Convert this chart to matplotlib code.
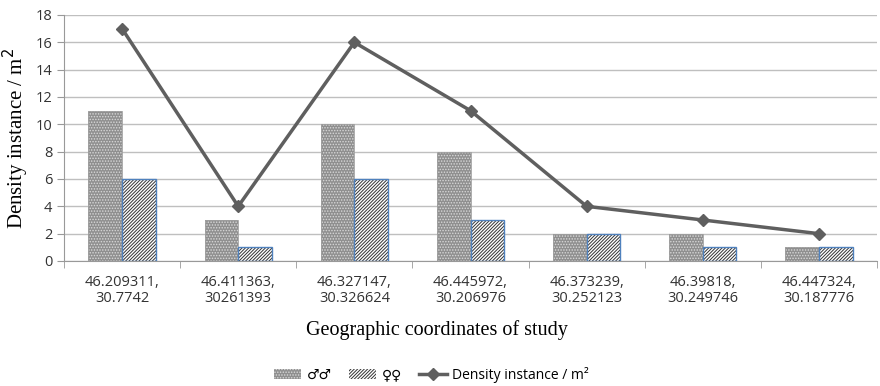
import matplotlib
matplotlib.use("Agg")
import matplotlib.pyplot as plt
import numpy as np
from matplotlib.patches import Patch
from matplotlib.lines import Line2D

categories = ["46.209311,\n30.7742", "46.411363,\n30261393", "46.327147,\n30.326624",
              "46.445972,\n30.206976", "46.373239,\n30.252123", "46.39818,\n30.249746",
              "46.447324,\n30.187776"]
males = [11, 3, 10, 8, 2, 2, 1]
females = [6, 1, 6, 3, 2, 1, 1]
density = [17, 4, 16, 11, 4, 3, 2]

plt.rcParams['hatch.linewidth'] = 0.7

fig = plt.figure(figsize=(8.8, 3.86), dpi=100)
ax = fig.add_axes([64/880, 1-261/386, (877-64)/880, (261-15)/386])

x = np.arange(len(categories))
w = 0.29

male_face, male_hatch = "#8f8f8f", "#d8d8d8"
fem_face, fem_hatch = "white", "#333333"

ax.bar(x - w/2, males, w, color=male_face, edgecolor=male_hatch, linewidth=0, hatch="......", zorder=2)
ax.bar(x - w/2, males, w, fill=False, edgecolor="#a0a0a0", linewidth=0.6, zorder=3)
ax.bar(x + w/2, females, w, color=fem_face, edgecolor=fem_hatch, linewidth=0, hatch="//////////", zorder=2)
ax.bar(x + w/2, females, w, fill=False, edgecolor="#4f81bd", linewidth=1.0, zorder=3)

ax.plot(x, density, color="#5f5f5f", linewidth=2.5, marker="D", markersize=6.5, zorder=4)

ax.set_xlim(-0.5, len(categories) - 0.5)
ax.set_ylim(0, 18)
ax.set_yticks(range(0, 19, 2))
ax.yaxis.grid(True, color="#bfbfbf", linewidth=1)
ax.set_axisbelow(True)

ax.set_xticks(x)
ax.set_xticklabels(categories, fontfamily="Open Sans", fontsize=10.5, color="#333333", linespacing=1.1)
ax.tick_params(axis="x", length=0, pad=10)
ax.set_xticks(np.arange(-0.5, len(categories), 1), minor=True)
ax.tick_params(axis="x", which="minor", length=5, color="#999999")
ax.tick_params(axis="y", length=5, color="#999999", labelsize=10.5, colors="#333333")
for lab in ax.get_yticklabels():
    lab.set_fontfamily("Open Sans")

for s in ["top", "right"]:
    ax.spines[s].set_visible(False)
ax.spines["left"].set_color("#999999")
ax.spines["bottom"].set_color("#999999")

ax.set_ylabel("Density instance / m$^2$", fontfamily="Liberation Serif", fontsize=15, labelpad=3)
ax.set_xlabel("Geographic coordinates of study", fontfamily="Liberation Serif", fontsize=14.5, labelpad=10)
ax.xaxis.label.set_x((437 - 64) / 813)

handles = [
    Patch(facecolor=male_face, edgecolor=male_hatch, hatch="......", linewidth=0),
    Patch(facecolor=fem_face, edgecolor=fem_hatch, hatch="//////////", linewidth=0),
    Line2D([0], [0], color="#5f5f5f", linewidth=2.5, marker="D", markersize=6),
]
labels = ["♂♂", "♀♀", "Density instance / m²"]
fig.legend(handles, labels, loc="center", bbox_to_anchor=(0.49, 1-375/386), ncol=3,
           frameon=False, prop={"family": ["Open Sans", "DejaVu Sans"], "size": 10},
           handlelength=2.0, handletextpad=0.4, columnspacing=1.2)

fig.savefig("out.png", dpi=100)
